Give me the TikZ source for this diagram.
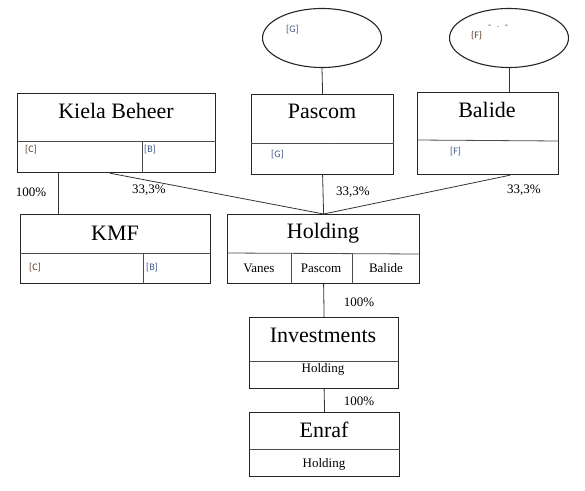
\documentclass[tikz,border=0pt]{standalone}
\usepackage{fontspec}
\setmainfont{Liberation Serif}
\newfontfamily\smallsans{Carlito}
\usetikzlibrary{shapes.geometric}
\definecolor{tagbrown}{HTML}{5A3E2B}
\definecolor{tagblue}{HTML}{3E5A86}
\definecolor{linegray}{HTML}{333333}
\tikzset{
  box/.style={draw=black!85, line width=1.2pt, inner sep=0pt, anchor=north west},
  oval/.style={draw=black!85, line width=1.1pt, ellipse, inner sep=0pt},
  title/.style={font=\fontsize{22}{25}\selectfont, inner sep=0pt},
  sub/.style={font=\fontsize{13}{15}\selectfont, inner sep=0pt},
  pct/.style={font=\fontsize{13}{15}\selectfont, inner sep=0pt},
  tagb/.style={font=\smallsans\fontsize{10}{11}\selectfont, text=tagbrown, inner sep=0pt, anchor=west},
  tagu/.style={font=\smallsans\fontsize{10}{11}\selectfont, text=tagblue, inner sep=0pt, anchor=west},
  divider/.style={draw=black!70, line width=0.8pt},
  conn/.style={draw=linegray, line width=0.8pt}
}
\begin{document}
\begin{tikzpicture}[x=1pt,y=-1pt]
\useasboundingbox[fill=white] (0,0) rectangle (585,490);

% ellipses
\node[oval, minimum width=119pt, minimum height=59pt] (elG) at (322,38) {};
\node[oval, minimum width=119pt, minimum height=59pt] (elF) at (509,38) {};
\node[tagu] (elGt) at (286,30) {[G]};
\node[tagb] (elFt) at (471,36) {\{F\}};
\node[font=\fontsize{8}{9}\selectfont, inner sep=0pt] (elFd) at (498,26) {-\hspace{6pt}.\hspace{6pt}-};

% top boxes
\node[box, minimum width=198pt, minimum height=79pt] (kiela) at (17,93) {};
\node[box, minimum width=142pt, minimum height=80pt] (pascom) at (251,94) {};
\node[box, minimum width=141pt, minimum height=82pt] (balide) at (417,92) {};

\node[title] (kielat) at (116,111) {Kiela Beheer};
\node[title] (pascomt) at (322,111) {Pascom};
\node[title] (balidet) at (487,110) {Balide};

\draw[divider] (kiela.west |- 0,141) -- (kiela.east |- 0,141);
\draw[divider] (142,141) -- (kiela.south -| 142,0);
\draw[divider] (pascom.west |- 0,143) -- (pascom.east |- 0,143);
\draw[divider] (balide.west |- 0,140) -- (balide.east |- 0,141);

\node[tagb] (kc) at (25,150) {[C]};
\node[tagu] (kb) at (144,150) {[B]};
\node[tagu] (pg) at (271,155) {[G]};
\node[font=\fontsize{6}{7}\selectfont, text=black!60, inner sep=0pt] (pd) at (334,145) {--};
\node[tagu] (bf) at (450,152) {[F]};

% middle boxes
\node[box, minimum width=190pt, minimum height=69pt] (kmf) at (20,214) {};
\node[box, minimum width=192pt, minimum height=69pt] (holding) at (227,214) {};
\node[title] (kmft) at (115,233) {KMF};
\node[title] (holdingt) at (323,233) {Holding};
\draw[divider] (kmf.west |- 0,253) -- (kmf.east |- 0,253);
\draw[divider] (143,253) -- (kmf.south -| 143,0);
\draw[divider] (holding.west |- 0,253) -- (holding.east |- 0,254);
\draw[divider] (291,253) -- (holding.south -| 291,0);
\draw[divider] (352,253) -- (holding.south -| 352,0);
\node[tagb] (kmfc) at (29,268) {[C]};
\node[tagu] (kmfb) at (146,268) {[B]};
\node[sub] (hv) at (259,268) {Vanes};
\node[sub] (hp) at (321,268) {Pascom};
\node[sub] (hb) at (386,268) {Balide};

% lower boxes
\node[box, minimum width=149pt, minimum height=71pt] (invest) at (249,317) {};
\node[title] (investt) at (323,335) {Investments};
\draw[divider] (invest.west |- 0,361) -- (invest.east |- 0,361);
\node[sub] (ih) at (323,369) {Holding};

\node[box, minimum width=150pt, minimum height=64pt] (enraf) at (249,412) {};
\node[title] (enraft) at (324,430) {Enraf};
\draw[divider] (enraf.west |- 0,449) -- (enraf.east |- 0,449);
\node[sub] (eh) at (324,464) {Holding};

% connectors
\draw[conn] (elG.south) -- (pascom.north);
\draw[conn] (elF.south) -- (elF.south |- balide.north);
\draw[conn] ([xshift=41pt]kiela.south west) -- ([xshift=38pt]kmf.north west);
\draw[conn] ([xshift=93pt]kiela.south west) -- (holding.north);
\draw[conn] (pascom.south) -- (holding.north);
\draw[conn] ([xshift=93pt]balide.south west) -- (holding.north);
\draw[conn] (holding.south) -- (invest.north);
\draw[conn] (invest.south) -- (enraf.north);

% percentages
\node[pct] (p1) at (31,192) {100\%};
\node[pct] (p2) at (149,190) {33,3\%};
\node[pct] (p3) at (353,192) {33,3\%};
\node[pct] (p4) at (524,190) {33,3\%};
\node[pct] (p5) at (359,302) {100\%};
\node[pct] (p6) at (359,401) {100\%};
\end{tikzpicture}
\end{document}
